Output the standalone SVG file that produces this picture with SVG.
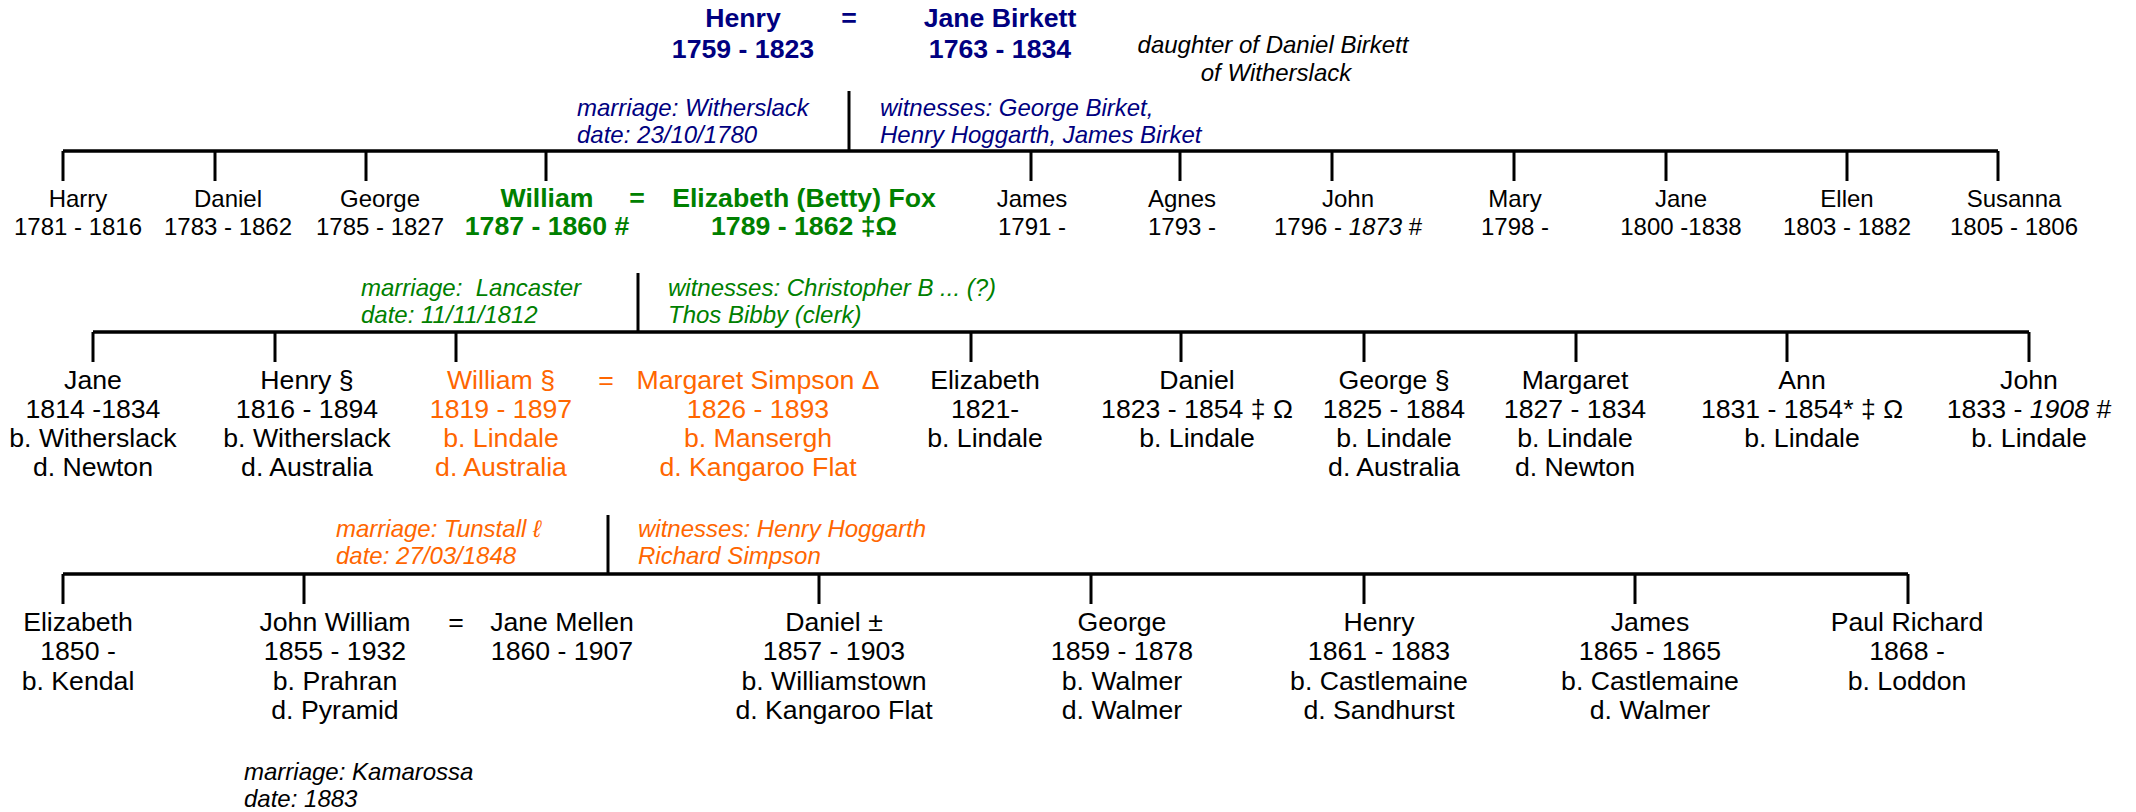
<svg xmlns="http://www.w3.org/2000/svg" width="2136" height="812" viewBox="0 0 2136 812">
<style>
text{font-family:"Liberation Sans",Arial,sans-serif;fill:#000;}
.t{font-size:26.67px;text-anchor:middle;}
.s{font-size:24px;text-anchor:middle;}
.b{font-weight:bold;}
.n{font-size:24px;font-style:italic;white-space:pre;}
.navy{fill:#000080;}
.green{fill:#008000;}
.orange{fill:#FF6600;}
.h{stroke:#000;stroke-width:3.5;fill:none;}
.v{stroke:#000;stroke-width:3;fill:none;}
</style>
<rect width="2136" height="812" fill="#fff"/>
<g id="connectors">
<line class="v" x1="849" y1="91" x2="849" y2="151"/>
<line class="h" x1="63" y1="151" x2="1998" y2="151"/>
<line class="v" x1="63" y1="151" x2="63" y2="181"/>
<line class="v" x1="215" y1="151" x2="215" y2="181"/>
<line class="v" x1="366" y1="151" x2="366" y2="181"/>
<line class="v" x1="546" y1="151" x2="546" y2="181"/>
<line class="v" x1="1031" y1="151" x2="1031" y2="181"/>
<line class="v" x1="1180" y1="151" x2="1180" y2="181"/>
<line class="v" x1="1332" y1="151" x2="1332" y2="181"/>
<line class="v" x1="1514" y1="151" x2="1514" y2="181"/>
<line class="v" x1="1666" y1="151" x2="1666" y2="181"/>
<line class="v" x1="1847" y1="151" x2="1847" y2="181"/>
<line class="v" x1="1998" y1="151" x2="1998" y2="181"/>
<line class="v" x1="638" y1="273" x2="638" y2="332"/>
<line class="h" x1="93" y1="332" x2="2029" y2="332"/>
<line class="v" x1="93" y1="332" x2="93" y2="362"/>
<line class="v" x1="275" y1="332" x2="275" y2="362"/>
<line class="v" x1="456" y1="332" x2="456" y2="362"/>
<line class="v" x1="971" y1="332" x2="971" y2="362"/>
<line class="v" x1="1181" y1="332" x2="1181" y2="362"/>
<line class="v" x1="1364" y1="332" x2="1364" y2="362"/>
<line class="v" x1="1576" y1="332" x2="1576" y2="362"/>
<line class="v" x1="1787" y1="332" x2="1787" y2="362"/>
<line class="v" x1="2029" y1="332" x2="2029" y2="362"/>
<line class="v" x1="608" y1="515" x2="608" y2="574"/>
<line class="h" x1="63" y1="574" x2="1908" y2="574"/>
<line class="v" x1="63" y1="574" x2="63" y2="604"/>
<line class="v" x1="304" y1="574" x2="304" y2="604"/>
<line class="v" x1="819" y1="574" x2="819" y2="604"/>
<line class="v" x1="1091" y1="574" x2="1091" y2="604"/>
<line class="v" x1="1364" y1="574" x2="1364" y2="604"/>
<line class="v" x1="1635" y1="574" x2="1635" y2="604"/>
<line class="v" x1="1908" y1="574" x2="1908" y2="604"/>
</g>
<g id="henry"><text class="t b navy" x="743" y="27">Henry<tspan x="743" dy="31">1759 - 1823</tspan></text></g>
<g id="eq0"><text class="t b navy" x="849" y="27">=</text></g>
<g id="jane-birkett"><text class="t b navy" x="1000" y="27">Jane Birkett<tspan x="1000" dy="31">1763 - 1834</tspan></text></g>
<g id="note-birkett"><text class="s" font-style="italic" x="1273" y="53">daughter of Daniel Birkett<tspan x="1276" dy="28">of Witherslack</tspan></text></g>
<g id="note-m1"><text class="n navy" x="577" y="116">marriage: Witherslack<tspan x="577" dy="27">date: 23/10/1780</tspan></text>
<text class="n navy" x="880" y="116">witnesses: George Birket,<tspan x="880" dy="27">Henry Hoggarth, James Birket</tspan></text></g>
<g id="harry"><text class="s" x="78" y="207">Harry<tspan x="78" dy="28">1781 - 1816</tspan></text></g>
<g id="daniel1"><text class="s" x="228" y="207">Daniel<tspan x="228" dy="28">1783 - 1862</tspan></text></g>
<g id="george1"><text class="s" x="380" y="207">George<tspan x="380" dy="28">1785 - 1827</tspan></text></g>
<g id="william1"><text class="t b green" x="547" y="207">William<tspan x="547" dy="28">1787 - 1860 #</tspan></text></g>
<g id="eq1"><text class="t b green" x="637" y="207">=</text></g>
<g id="elizabeth-fox"><text class="t b green" x="804" y="207">Elizabeth (Betty) Fox<tspan x="804" dy="28">1789 - 1862 ‡Ω</tspan></text></g>
<g id="james1"><text class="s" x="1032" y="207">James<tspan x="1032" dy="28">1791 -</tspan></text></g>
<g id="agnes"><text class="s" x="1182" y="207">Agnes<tspan x="1182" dy="28">1793 -</tspan></text></g>
<g id="john1"><text class="s" x="1348" y="207">John<tspan x="1348" dy="28">1796 - <tspan font-style="italic">1873</tspan> #</tspan></text></g>
<g id="mary"><text class="s" x="1515" y="207">Mary<tspan x="1515" dy="28">1798 -</tspan></text></g>
<g id="jane1"><text class="s" x="1681" y="207">Jane<tspan x="1681" dy="28">1800 -1838</tspan></text></g>
<g id="ellen"><text class="s" x="1847" y="207">Ellen<tspan x="1847" dy="28">1803 - 1882</tspan></text></g>
<g id="susanna"><text class="s" x="2014" y="207">Susanna<tspan x="2014" dy="28">1805 - 1806</tspan></text></g>
<g id="note-m2"><text class="n green" x="361" y="296">marriage:  Lancaster<tspan x="361" dy="27">date: 11/11/1812</tspan></text>
<text class="n green" x="668" y="296">witnesses: Christopher B ... (?)<tspan x="668" dy="27">Thos Bibby (clerk)</tspan></text></g>
<g id="jane2"><text class="t" x="93" y="389">Jane<tspan x="93" dy="29">1814 -1834</tspan><tspan x="93" dy="29">b. Witherslack</tspan><tspan x="93" dy="29">d. Newton</tspan></text></g>
<g id="henry2"><text class="t" x="307" y="389">Henry §<tspan x="307" dy="29">1816 - 1894</tspan><tspan x="307" dy="29">b. Witherslack</tspan><tspan x="307" dy="29">d. Australia</tspan></text></g>
<g id="william2"><text class="t orange" x="501" y="389">William §<tspan x="501" dy="29">1819 - 1897</tspan><tspan x="501" dy="29">b. Lindale</tspan><tspan x="501" dy="29">d. Australia</tspan></text></g>
<g id="eq2"><text class="t orange" x="606" y="389">=</text></g>
<g id="margaret-simpson"><text class="t orange" x="758" y="389">Margaret Simpson Δ<tspan x="758" dy="29">1826 - 1893</tspan><tspan x="758" dy="29">b. Mansergh</tspan><tspan x="758" dy="29">d. Kangaroo Flat</tspan></text></g>
<g id="elizabeth2"><text class="t" x="985" y="389">Elizabeth<tspan x="985" dy="29">1821-</tspan><tspan x="985" dy="29">b. Lindale</tspan></text></g>
<g id="daniel2"><text class="t" x="1197" y="389">Daniel<tspan x="1197" dy="29">1823 - 1854 ‡ Ω</tspan><tspan x="1197" dy="29">b. Lindale</tspan></text></g>
<g id="george2"><text class="t" x="1394" y="389">George §<tspan x="1394" dy="29">1825 - 1884</tspan><tspan x="1394" dy="29">b. Lindale</tspan><tspan x="1394" dy="29">d. Australia</tspan></text></g>
<g id="margaret2"><text class="t" x="1575" y="389">Margaret<tspan x="1575" dy="29">1827 - 1834</tspan><tspan x="1575" dy="29">b. Lindale</tspan><tspan x="1575" dy="29">d. Newton</tspan></text></g>
<g id="ann"><text class="t" x="1802" y="389">Ann<tspan x="1802" dy="29">1831 - 1854* ‡ Ω</tspan><tspan x="1802" dy="29">b. Lindale</tspan></text></g>
<g id="john2"><text class="t" x="2029" y="389">John<tspan x="2029" dy="29">1833 - <tspan font-style="italic">1908</tspan> #</tspan><tspan x="2029" dy="29">b. Lindale</tspan></text></g>
<g id="note-m3"><text class="n orange" x="336" y="537">marriage: Tunstall ℓ<tspan x="336" dy="27">date: 27/03/1848</tspan></text>
<text class="n orange" x="638" y="537">witnesses: Henry Hoggarth<tspan x="638" dy="27">Richard Simpson</tspan></text></g>
<g id="elizabeth3"><text class="t" x="78" y="631">Elizabeth<tspan x="78" dy="29.3">1850 -</tspan><tspan x="78" dy="29.3">b. Kendal</tspan></text></g>
<g id="john-william"><text class="t" x="335" y="631">John William<tspan x="335" dy="29.3">1855 - 1932</tspan><tspan x="335" dy="29.3">b. Prahran</tspan><tspan x="335" dy="29.3">d. Pyramid</tspan></text></g>
<g id="eq3"><text class="t" x="456" y="631">=</text></g>
<g id="jane-mellen"><text class="t" x="562" y="631">Jane Mellen<tspan x="562" dy="29.3">1860 - 1907</tspan></text></g>
<g id="daniel3"><text class="t" x="834" y="631">Daniel ±<tspan x="834" dy="29.3">1857 - 1903</tspan><tspan x="834" dy="29.3">b. Williamstown</tspan><tspan x="834" dy="29.3">d. Kangaroo Flat</tspan></text></g>
<g id="george3"><text class="t" x="1122" y="631">George<tspan x="1122" dy="29.3">1859 - 1878</tspan><tspan x="1122" dy="29.3">b. Walmer</tspan><tspan x="1122" dy="29.3">d. Walmer</tspan></text></g>
<g id="henry3"><text class="t" x="1379" y="631">Henry<tspan x="1379" dy="29.3">1861 - 1883</tspan><tspan x="1379" dy="29.3">b. Castlemaine</tspan><tspan x="1379" dy="29.3">d. Sandhurst</tspan></text></g>
<g id="james3"><text class="t" x="1650" y="631">James<tspan x="1650" dy="29.3">1865 - 1865</tspan><tspan x="1650" dy="29.3">b. Castlemaine</tspan><tspan x="1650" dy="29.3">d. Walmer</tspan></text></g>
<g id="paul-richard"><text class="t" x="1907" y="631">Paul Richard<tspan x="1907" dy="29.3">1868 -</tspan><tspan x="1907" dy="29.3">b. Loddon</tspan></text></g>
<g id="note-m4"><text class="n" x="244" y="780">marriage: Kamarossa<tspan x="244" dy="27">date: 1883</tspan></text></g>
</svg>
